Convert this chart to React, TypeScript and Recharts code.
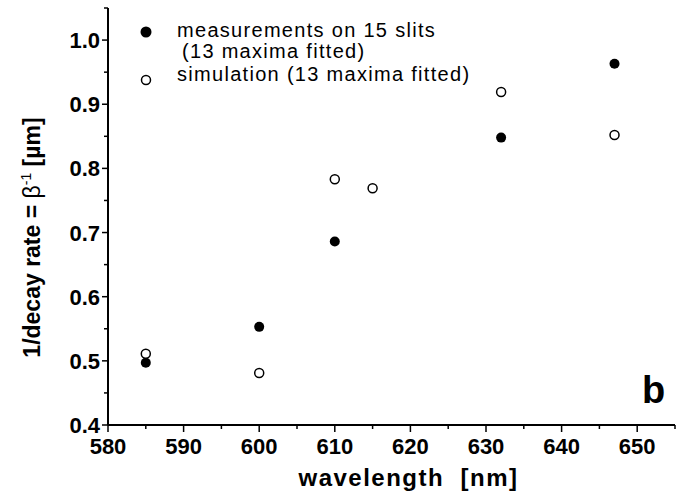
import React from 'react';
import { ScatterChart, Scatter, XAxis, YAxis, Legend } from 'recharts';

// wavelengths (nm) and 1/decay rate (µm)
const measuredWavelength = [585, 600, 610, 632, 647];
const measuredValue = [0.497, 0.553, 0.686, 0.848, 0.963];

const simWavelength = [585, 600, 610, 615, 632, 647];
const simValue = [0.511, 0.481, 0.783, 0.769, 0.919, 0.852];

const xTicks = [580, 585, 590, 595, 600, 605, 610, 615, 620, 625, 630, 635, 640, 645, 650, 655];
const yTicks = [0.4, 0.45, 0.5, 0.55, 0.6, 0.65, 0.7, 0.75, 0.8, 0.85, 0.9, 0.95, 1.0, 1.05];

const legendLabels = ['measurements on 15 slits', '(13 maxima fitted)', 'simulation (13 maxima fitted)'];

const measuredData = measuredWavelength.map((x, i) => ({ x, y: measuredValue[i] }));
const simData = simWavelength.map((x, i) => ({ x, y: simValue[i] }));

const FONT = '"Liberation Sans", Arial, Helvetica, sans-serif';

const XTick = (props: any) => {
  const { x, y, payload } = props;
  const v = payload.value;
  const major = Math.round(v) % 10 === 0 && v <= 650;
  return (
    <g>
      <line x1={x} x2={x} y1={y} y2={y + (major ? 7 : 4)} stroke="#000" strokeWidth={1.5} />
      {major && (
        <text x={x} y={y + 29} textAnchor="middle" fontFamily={FONT} fontWeight="bold" fontSize={22} fill="#000">
          {v}
        </text>
      )}
    </g>
  );
};

const YTick = (props: any) => {
  const { x, y, payload } = props;
  const v = payload.value;
  const major = Math.round(v * 100) % 10 === 0;
  return (
    <g>
      <line x1={x} x2={x - (major ? 6 : 4)} y1={y} y2={y} stroke="#000" strokeWidth={1.5} />
      {major && (
        <text x={x - 8} y={y + 8} textAnchor="end" fontFamily={FONT} fontWeight="bold" fontSize={22} fill="#000">
          {v.toFixed(1)}
        </text>
      )}
    </g>
  );
};

const XLabel = (props: any) => {
  const vb = props.viewBox || { x: 108, y: 425, width: 567, height: 76 };
  return (
    <g>
      <text
        x={vb.x + vb.width / 2 + 17}
        y={vb.y + 61}
        textAnchor="middle"
        fontFamily={FONT}
        fontWeight="bold"
        fontSize={24}
        letterSpacing={1.5}
        fill="#000"
      >
        {'wavelength\u00a0\u00a0[nm]'}
      </text>
      <text x={vb.x + vb.width - 33} y={vb.y - 22} fontFamily={FONT} fontWeight="bold" fontSize={38} fill="#000">
        b
      </text>
    </g>
  );
};

const YLabel = (props: any) => {
  const vb = props.viewBox || { x: 0, y: 8, width: 108, height: 417 };
  const cx = 40;
  const cy = vb.y + vb.height / 2 + 21;
  return (
    <text
      x={cx}
      y={cy}
      transform={`rotate(-90, ${cx}, ${cy})`}
      textAnchor="middle"
      fontFamily={FONT}
      fontWeight="bold"
      fontSize={23}
      fill="#000"
    >
      1/decay rate = <tspan fontWeight="normal">β</tspan>
      <tspan fontWeight="normal" fontSize={14} dy={-9}>-1</tspan>
      <tspan dy={9}> [µm]</tspan>
    </text>
  );
};

const renderLegend = () => (
  <svg width={560} height={100} style={{ display: 'block', overflow: 'visible' }}>
    <circle cx={146} cy={32} r={5.5} fill="#000" />
    <text x={177} y={37} fontFamily={FONT} fontSize={20} letterSpacing={1.3} fill="#000">
      {legendLabels[0]}
    </text>
    <text x={182} y={58} fontFamily={FONT} fontSize={20} letterSpacing={1.3} fill="#000">
      {legendLabels[1]}
    </text>
    <circle cx={146} cy={80} r={4.5} fill="#fff" stroke="#000" strokeWidth={1.5} />
    <text x={177} y={81} fontFamily={FONT} fontSize={20} letterSpacing={1.3} fill="#000">
      {legendLabels[2]}
    </text>
  </svg>
);

const FilledDot = (props: any) => <circle cx={props.cx} cy={props.cy} r={5} fill="#000" />;
const OpenDot = (props: any) => (
  <circle cx={props.cx} cy={props.cy} r={4.5} fill="#fff" stroke="#000" strokeWidth={1.5} />
);

export default function App() {
  return (
    <div style={{ position: 'absolute', left: 0, top: 0, width: 686, height: 501, background: '#fff' }}>
      <ScatterChart width={686} height={501} margin={{ top: 8, right: 11, bottom: 0, left: 0 }}>
        <XAxis
          type="number"
          dataKey="x"
          domain={[580, 655]}
          ticks={xTicks}
          interval={0}
          height={76}
          tickSize={0}
          tickMargin={0}
          tick={<XTick />}
          axisLine={{ stroke: '#000', strokeWidth: 2 }}
          tickLine={false}
          label={<XLabel />}
        />
        <YAxis
          type="number"
          dataKey="y"
          domain={[0.4, 1.05]}
          ticks={yTicks}
          interval={0}
          width={108}
          tickSize={0}
          tickMargin={0}
          tick={<YTick />}
          axisLine={{ stroke: '#000', strokeWidth: 2 }}
          tickLine={false}
          label={<YLabel />}
        />
        <Legend
          layout="vertical"
          verticalAlign="middle"
          align="center"
          content={renderLegend}
          wrapperStyle={{ left: 0, top: 0, width: 560, height: 100 }}
        />
        <Scatter name="measurements" data={measuredData} shape={<FilledDot />} isAnimationActive={false} />
        <Scatter name="simulation" data={simData} shape={<OpenDot />} isAnimationActive={false} />
      </ScatterChart>
    </div>
  );
}
